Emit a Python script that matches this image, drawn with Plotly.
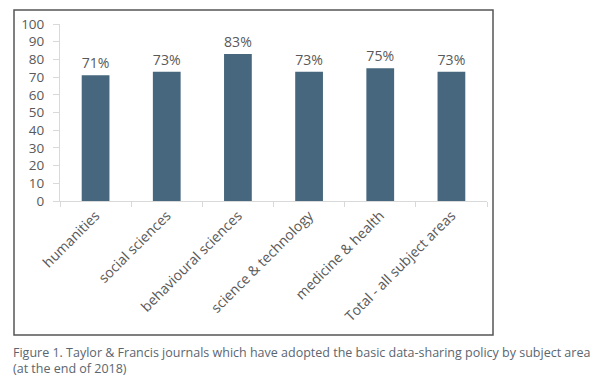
import plotly.graph_objects as go

categories = ["humanities", "social sciences", "behavioural sciences",
              "science & technology", "medicine & health", "Total - all subject areas"]
values = [71, 73, 83, 73, 75, 73]
labels = ["71%", "73%", "83%", "73%", "75%", "73%"]
y_ticks = [0, 10, 20, 30, 40, 50, 60, 70, 80, 90, 100]
caption = ("Figure 1. Taylor &amp; Francis journals which have adopted the basic data-sharing policy by subject area"
           "<br>(at the end of 2018)")

W, H = 604, 385
L, R, T, B = 60, 117, 24, 184
pw, ph = W - L - R, H - T - B

def px(x):
    return (x - L) / pw

def py(y):
    return (H - B - y) / ph

fig = go.Figure(go.Bar(
    x=categories, y=values, text=labels, textposition="outside",
    textfont=dict(size=14.5, color="#595959"),
    marker=dict(color="#46677d", line=dict(width=0)),
    width=0.39, cliponaxis=False,
))

fig.update_layout(
    width=W, height=H, margin=dict(l=L, r=R, t=T, b=B),
    paper_bgcolor="white", plot_bgcolor="white",
    font=dict(family="Open Sans", color="#595959"),
    showlegend=False,
    xaxis=dict(tickangle=-45, tickfont=dict(size=14, color="#595959"),
               showline=True, linecolor="#d9d9d9", linewidth=1,
               ticks="outside", tickson="boundaries", ticklen=5, tickcolor="#d9d9d9",
               showgrid=False),
    yaxis=dict(range=[0, 100], tickvals=y_ticks, tickfont=dict(size=13.5, color="#595959"),
               showline=True, linecolor="#d9d9d9", linewidth=1,
               ticks="outside", ticklen=6, tickcolor="#d9d9d9", showgrid=False,
               ticklabelstandoff=6, zeroline=False),
    shapes=[dict(type="rect", xref="paper", yref="paper",
                 x0=px(14), x1=px(493), y0=py(335), y1=py(10),
                 line=dict(color="#555555", width=1.5))],
    annotations=[dict(text=caption, xref="paper", yref="paper",
                      x=px(11), y=py(342), xanchor="left", yanchor="top",
                      align="left", showarrow=False,
                      font=dict(size=12.5, color="#5a6670", family="Open Sans"))],
)

fig.write_html("out.html", config={"displayModeBar": False},
               post_script="document.body.style.margin='0';")
